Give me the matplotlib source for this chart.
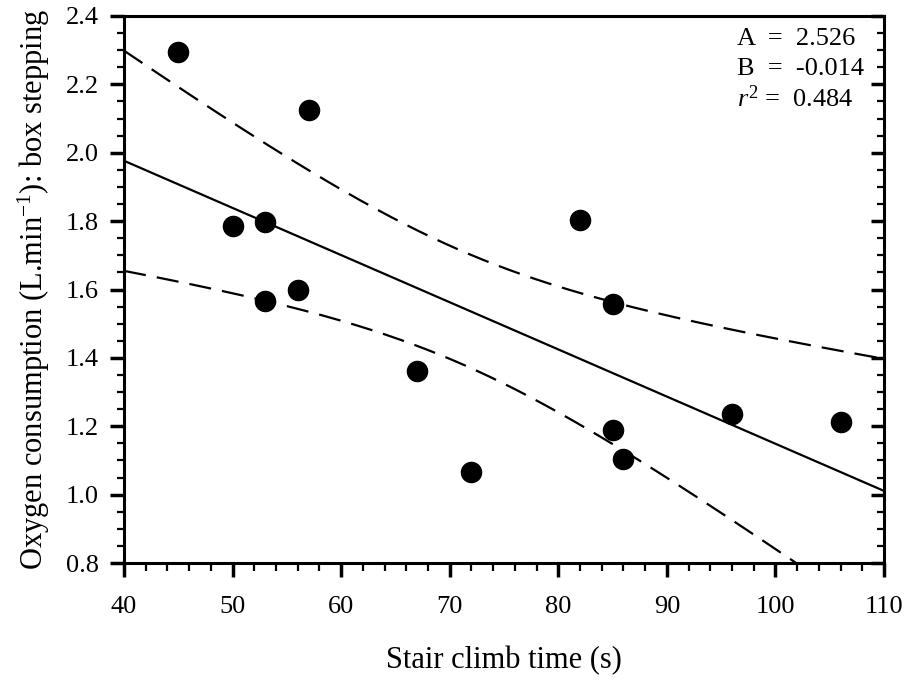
import numpy as np
import matplotlib
matplotlib.use("Agg")
import matplotlib.pyplot as plt
from matplotlib.ticker import MultipleLocator

plt.rcParams['font.family'] = ['Liberation Serif', 'DejaVu Serif']
plt.rcParams['mathtext.fontset'] = 'custom'
plt.rcParams['mathtext.rm'] = 'Liberation Serif'
plt.rcParams['mathtext.it'] = 'Liberation Serif:italic'

# Data
stair_time = [45, 50, 53, 53, 56, 57, 67, 72, 82, 85, 85, 86, 96, 106]
oxygen = [2.295, 1.785, 1.797, 1.567, 1.600, 2.125, 1.362, 1.065, 1.802, 1.557, 1.190, 1.105, 1.237, 1.212]
x_ticks = [40, 50, 60, 70, 80, 90, 100, 110]
y_ticks = [0.8, 1.0, 1.2, 1.4, 1.6, 1.8, 2.0, 2.2, 2.4]
stats_labels = ["A  =  2.526", "B  =  -0.014", "$\\it{r}^2$ =  0.484"]
t_crit = 2.179  # t(0.975, df=12)

x = np.array(stair_time, dtype=float)
y = np.array(oxygen, dtype=float)
n = len(x)
b, a = np.polyfit(x, y, 1)
resid = y - (a + b * x)
s = np.sqrt(np.sum(resid ** 2) / (n - 2))
sxx = np.sum((x - x.mean()) ** 2)

xf = np.linspace(40, 110, 300)
yf = a + b * xf
half = t_crit * s * np.sqrt(1.0 / n + (xf - x.mean()) ** 2 / sxx)

fig = plt.figure(figsize=(9.09, 6.8), dpi=100)
ax = fig.add_axes([0.1364, 0.172, 0.8361, 0.8045])

ax.plot(xf, yf, color='black', lw=1.6, zorder=2)
ax.plot(xf, yf + half, color='black', lw=1.6, dashes=(10, 5), zorder=2)
ax.plot(xf, yf - half, color='black', lw=1.6, dashes=(10, 5), zorder=2)
ax.plot(x, y, 'o', color='black', ms=14.5, zorder=3, clip_on=False)

ax.set_xlim(40, 110)
ax.set_ylim(0.8, 2.4)
ax.set_xticks(x_ticks)
ax.set_yticks(y_ticks)
ax.set_yticklabels([f"{v:.1f}" for v in y_ticks])
ax.xaxis.set_minor_locator(MultipleLocator(2))
ax.yaxis.set_minor_locator(MultipleLocator(0.05))

for sp in ax.spines.values():
    sp.set_linewidth(2.2)

ax.tick_params(axis='x', which='major', direction='out', length=10, width=2.5,
               labelsize=19, pad=14, top=False)
ax.tick_params(axis='x', which='minor', direction='out', length=5.5, width=1.6, top=False)
ax.tick_params(axis='y', which='major', direction='out', length=10, width=2.5,
               labelsize=19, pad=8, right=False)
ax.tick_params(axis='y', which='minor', direction='out', length=5, width=1.6, right=False)

# right axis inward ticks
ax2 = ax.twinx()
ax2.set_ylim(0.8, 2.4)
ax2.set_yticks(y_ticks)
ax2.yaxis.set_minor_locator(MultipleLocator(0.05))
ax2.tick_params(axis='y', which='major', direction='in', length=9.5, width=2.5, labelright=False)
ax2.tick_params(axis='y', which='minor', direction='in', length=5, width=1.6)
for sp in ax2.spines.values():
    sp.set_visible(False)

ax.set_xlabel("Stair climb time (s)", fontsize=22, labelpad=20)
ax.set_ylabel("Oxygen consumption (L.min$^{-1}$): box stepping", fontsize=22, labelpad=10)

for i, lab in enumerate(stats_labels):
    ax.text(0.8066, 0.958 - i * 0.0548, lab, transform=ax.transAxes, fontsize=19,
            ha='left', va='center')

fig.savefig("out.png", dpi=100)
